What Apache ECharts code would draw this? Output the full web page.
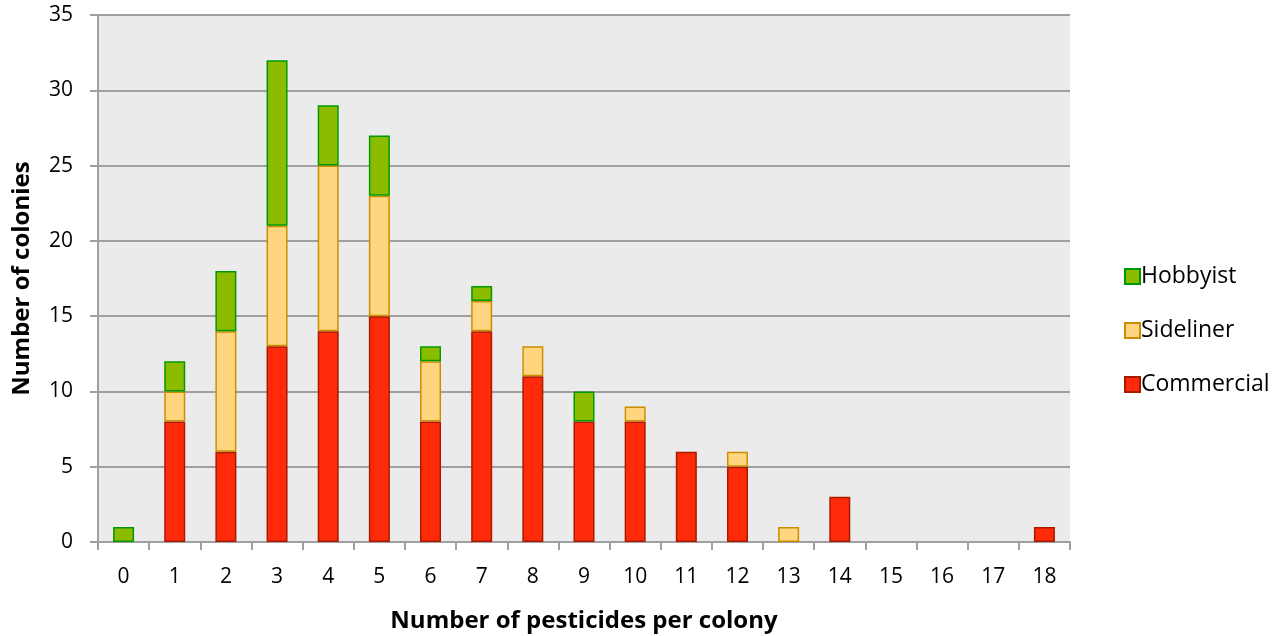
<!DOCTYPE html>
<html><head><meta charset="utf-8">
<script src="https://cdn.jsdelivr.net/npm/echarts@6/dist/echarts.min.js"></script>
<style>html,body{margin:0;padding:0;background:#fff}#c{width:1283px;height:636px}</style>
</head><body><div id="c"></div>
<script>
const categories = ['0','1','2','3','4','5','6','7','8','9','10','11','12','13','14','15','16','17','18'];
const commercial = [null,8,6,13,14,15,8,14,11,8,8,6,5,null,3,null,null,null,1];
const sideliner  = [null,2,8,8,11,8,4,2,2,null,1,null,1,1,null,null,null,null,null];
const hobbyist   = [1,2,4,11,4,4,1,1,null,2,null,null,null,null,null,null,null,null,null];
const yTicks = [0,5,10,15,20,25,30,35];

const font = '"Open Sans", "Noto Sans", sans-serif';
const chart = echarts.init(document.getElementById('c'), null, {renderer:'canvas'});
function barSeries(name, data, fill, border){
  return {name, type:'bar', stack:'t', data, barWidth:21,
    itemStyle:{color:fill, borderColor:border, borderWidth:1.5}, emphasis:{disabled:true}};
}
chart.setOption({
  animation:false,
  backgroundColor:'#fff',
  grid:{left:98, top:15, width:972, height:527, show:true, backgroundColor:'#EBEBEB', borderWidth:0,
    containLabel:false, outerBoundsMode:'none'},
  legend:{orient:'vertical', left:1119, top:260, itemWidth:15, itemHeight:15, itemGap:31,
    data:['Hobbyist','Sideliner','Commercial'],
    textStyle:{fontFamily:font, fontSize:23, color:'#000', padding:[0,0,0,-4]},
    icon:'rect'},
  xAxis:{type:'category', data:categories,
    name:'Number of pesticides per colony', nameLocation:'middle', nameGap:67,
    nameTextStyle:{fontFamily:font, fontSize:24, fontWeight:'bold', color:'#000'},
    axisLine:{lineStyle:{color:'#A0A0A0', width:2}},
    axisTick:{show:true, length:8, lineStyle:{color:'#A0A0A0', width:2}},
    axisLabel:{fontFamily:font, fontSize:21, color:'#000', margin:25}},
  yAxis:{type:'value', min:0, max:35, interval:5,
    name:'Number of colonies', nameLocation:'middle', nameGap:64, nameRotate:90,
    nameTextStyle:{fontFamily:font, fontSize:24, fontWeight:'bold', color:'#000'},
    axisLine:{show:true, lineStyle:{color:'#A0A0A0', width:2}},
    axisTick:{show:true, length:8, lineStyle:{color:'#A0A0A0', width:2}},
    splitLine:{lineStyle:{color:'#A0A0A0', width:2}},
    axisLabel:{fontFamily:font, fontSize:21, color:'#000', margin:25,
      formatter:v=>yTicks.includes(v)?String(v):''}},
  series:[
    barSeries('Commercial', commercial, '#FF2A0A', '#A81A00'),
    barSeries('Sideliner', sideliner, '#FFD57F', '#CC8E00'),
    barSeries('Hobbyist', hobbyist, '#8BBC00', '#009A00')
  ]
});
</script></body></html>
